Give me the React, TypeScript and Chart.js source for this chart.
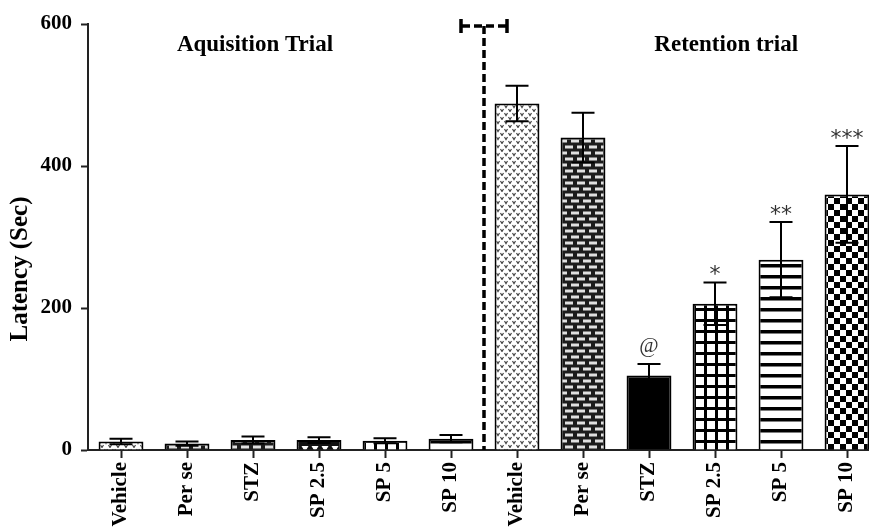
import React, { useEffect, useRef } from "react";
import { Chart, registerables } from "chart.js";

Chart.register(...registerables);

const categories = ["Vehicle", "Per se", "STZ", "SP 2.5", "SP 5", "SP 10", "Vehicle", "Per se", "STZ", "SP 2.5", "SP 5", "SP 10"];
const latencyMeans = [12, 9, 14, 14, 13, 16, 488, 440, 105, 206, 268, 360];
const latencySem = [4, 3, 5, 4, 3.5, 5, 25, 35, 16, 30, 53, 68];
const significance = ["", "", "", "", "", "", "", "", "@", "*", "**", "***"];
const yTicks = [0, 200, 400, 600];
const groupTitles = ["Aquisition Trial", "Retention trial"];
const yTitle = "Latency (Sec)";
const patternKinds = ["speckle", "brick", "brick", "triangle", "grid", "stripes", "speckle", "brick", "solid", "grid", "stripes", "checker"];

const FONT = "'Liberation Serif', 'Times New Roman', serif";

function makePattern(kind: string): any {
  if (kind === "solid") return "#000";
  const c = document.createElement("canvas");
  const g = c.getContext("2d")!;
  if (kind === "speckle") {
    c.width = 8; c.height = 8;
    g.fillStyle = "#fff"; g.fillRect(0, 0, 8, 8);
    g.strokeStyle = "#444"; g.lineWidth = 1.2;
    const v = (x: number, y: number) => { g.beginPath(); g.moveTo(x, y); g.lineTo(x + 1.5, y + 2.5); g.lineTo(x + 3, y); g.stroke(); };
    v(0.5, 1); v(4.5, 5);
  } else if (kind === "brick") {
    c.width = 12; c.height = 12;
    g.fillStyle = "#1c1c1c"; g.fillRect(0, 0, 12, 12);
    g.fillStyle = "#e0e0e0";
    g.fillRect(1, 1.5, 8, 3);
    g.fillRect(7, 7.5, 8, 3);
    g.fillRect(-5, 7.5, 8, 3);
  } else if (kind === "triangle") {
    c.width = 10; c.height = 12;
    g.fillStyle = "#111"; g.fillRect(0, 0, 10, 12);
    g.fillStyle = "#fff";
    g.beginPath(); g.moveTo(1.5, 2); g.lineTo(8.5, 2); g.lineTo(5, 8); g.closePath(); g.fill();
  } else if (kind === "grid") {
    c.width = 11; c.height = 11;
    g.fillStyle = "#000"; g.fillRect(0, 0, 11, 11);
    g.fillStyle = "#fff"; g.fillRect(3, 3, 8, 8);
  } else if (kind === "stripes") {
    c.width = 4; c.height = 11;
    g.fillStyle = "#fff"; g.fillRect(0, 0, 4, 11);
    g.fillStyle = "#000"; g.fillRect(0, 0, 4, 3.5);
  } else if (kind === "checker") {
    c.width = 12; c.height = 12;
    g.fillStyle = "#fff"; g.fillRect(0, 0, 12, 12);
    g.fillStyle = "#000"; g.fillRect(0, 0, 6, 6); g.fillRect(6, 6, 6, 6);
  }
  return g.createPattern(c, "repeat");
}

const overlayPlugin = {
  id: "overlay",
  afterDatasetsDraw(chart: any) {
    const ctx = chart.ctx;
    const xs = chart.scales.x;
    const ys = chart.scales.y;
    const meta = chart.getDatasetMeta(0);
    ctx.save();
    // error bars
    ctx.strokeStyle = "#000";
    ctx.lineWidth = 2;
    meta.data.forEach((bar: any, i: number) => {
      const x = bar.x;
      const yTop = ys.getPixelForValue(latencyMeans[i] + latencySem[i]);
      const yBot = ys.getPixelForValue(Math.max(0, latencyMeans[i] - latencySem[i]));
      const cap = 11.5;
      ctx.beginPath();
      ctx.moveTo(x, yBot); ctx.lineTo(x, yTop);
      ctx.moveTo(x - cap, yTop); ctx.lineTo(x + cap, yTop);
      ctx.moveTo(x - cap, yBot); ctx.lineTo(x + cap, yBot);
      ctx.stroke();
      const s = significance[i];
      if (s) {
        ctx.fillStyle = "#333";
        ctx.font = s.startsWith("*") ? "normal 22px 'DejaVu Sans', sans-serif" : `normal 21px ${FONT}`;
        ctx.textAlign = "center";
        ctx.textBaseline = "alphabetic";
        const m = ctx.measureText(s);
        ctx.fillText(s, x, yTop - 7 - m.actualBoundingBoxDescent);
      }
    });
    // divider
    const dx = xs.getPixelForValue(5.5);
    const top = ys.getPixelForValue(600) + 2;
    const bottom = ys.getPixelForValue(0);
    ctx.strokeStyle = "#000";
    ctx.lineWidth = 3.5;
    ctx.setLineDash([8, 4]);
    ctx.beginPath();
    ctx.moveTo(dx, top); ctx.lineTo(dx, bottom);
    ctx.moveTo(dx - 22, top); ctx.lineTo(dx + 22, top);
    ctx.stroke();
    ctx.setLineDash([]);
    ctx.beginPath();
    ctx.moveTo(dx - 23, top - 7); ctx.lineTo(dx - 23, top + 7);
    ctx.moveTo(dx + 23, top - 7); ctx.lineTo(dx + 23, top + 7);
    ctx.stroke();
    // group titles
    ctx.fillStyle = "#000";
    ctx.font = `bold 23px ${FONT}`;
    ctx.textAlign = "center";
    ctx.textBaseline = "middle";
    const ty = ys.getPixelForValue(570);
    ctx.fillText(groupTitles[0], xs.getPixelForValue(2.03), ty);
    ctx.fillText(groupTitles[1], xs.getPixelForValue(9.17), ty);
    // y title
    const ca = chart.chartArea;
    ctx.translate(21, (ca.top + ca.bottom) / 2 + 32);
    ctx.rotate(-Math.PI / 2);
    ctx.font = `bold 25px ${FONT}`;
    ctx.fillText(yTitle, 0, 0);
    ctx.restore();
  },
};

export default function App() {
  const ref = useRef<HTMLCanvasElement | null>(null);
  useEffect(() => {
    if (!ref.current) return;
    const chart = new Chart(ref.current, {
      type: "bar",
      data: {
        labels: categories,
        datasets: [
          {
            data: latencyMeans,
            backgroundColor: patternKinds.map(makePattern),
            borderColor: "#000",
            borderWidth: 2,
            categoryPercentage: 0.8,
            barPercentage: 0.85,
          },
        ],
      },
      options: {
        responsive: false,
        animation: false,
        layout: { padding: { left: 0, right: 0, top: 24, bottom: 0 } },
        plugins: { legend: { display: false }, tooltip: { enabled: false } },
        scales: {
          x: {
            type: "category",
            offset: true,
            grid: { offset: false, drawOnChartArea: false, drawTicks: true, tickLength: 8, tickWidth: 2, tickColor: "#222" },
            border: { color: "#222", width: 2 },
            ticks: { minRotation: 90, maxRotation: 90, autoSkip: false, padding: 4, color: "#000", font: { family: FONT, size: 21, weight: "bold" } },
            afterFit: (s: any) => { s.height = 80; },
          },
          y: {
            min: 0,
            max: 600,
            afterBuildTicks: (s: any) => { s.ticks = yTicks.map((v) => ({ value: v })); },
            grid: { drawOnChartArea: false, tickLength: 7, tickWidth: 2, tickColor: "#222" },
            border: { color: "#222", width: 2 },
            ticks: { padding: 9, color: "#000", font: { family: FONT, size: 21, weight: "bold" } },
            afterFit: (s: any) => { s.width = 88; },
          },
        },
      } as any,
      plugins: [overlayPlugin],
    });
    return () => chart.destroy();
  }, []);
  return (
    <div style={{ position: "fixed", left: 0, top: 0, width: 869, height: 530, overflow: "hidden", background: "#fff" }}>
      <canvas ref={ref} width={880} height={530} style={{ display: "block" }} />
    </div>
  );
}
